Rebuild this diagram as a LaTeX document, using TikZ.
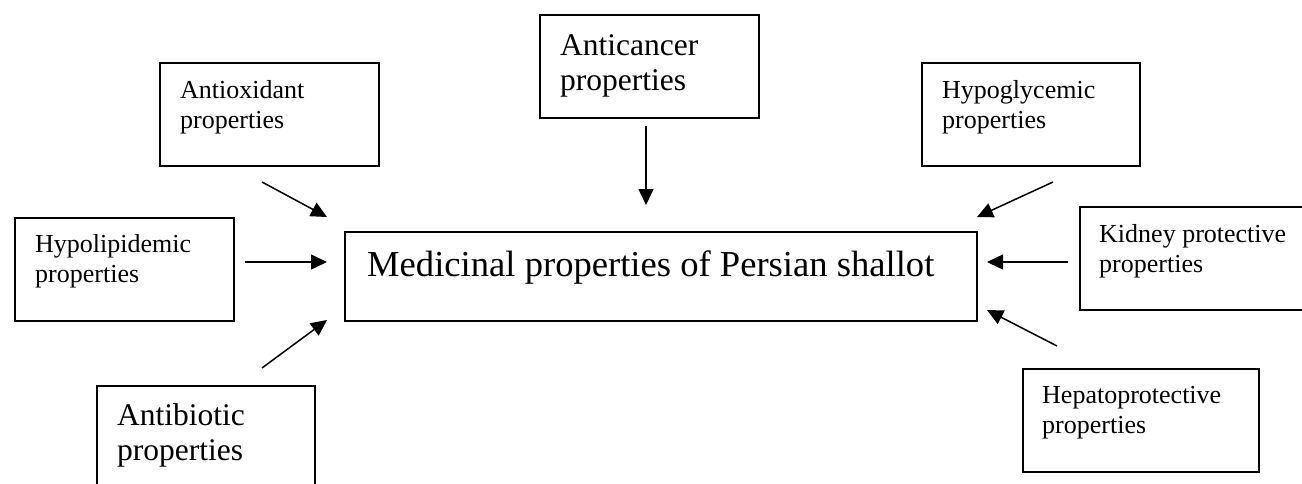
\documentclass[tikz,border=0pt]{standalone}
\usepackage{fontspec}
\setmainfont{Liberation Serif}
\usetikzlibrary{arrows.meta}
\tikzset{
  box/.style={draw, line width=1.6pt, inner sep=0pt, anchor=north west},
  small/.style={inner sep=0pt, anchor=north west, align=left, font=\fontsize{26}{30}\selectfont},
  large/.style={inner sep=0pt, anchor=north west, align=left, font=\fontsize{31.5}{35}\selectfont},
  arr/.style={line width=1.5pt, -{Triangle[length=16pt,width=15pt]}}
}
\newcommand{\boxat}[5]{\node[box, minimum width=#4-#2, minimum height=#5-#3] (#1) at (#2,#3) {};}
\begin{document}
\begin{tikzpicture}[x=1pt,y=-1pt]
\useasboundingbox (0,0) rectangle (1302,483);
\clip (0,0) rectangle (1302,483);
% boxes
\boxat{antiox}{159}{62}{378}{165}
\boxat{anticancer}{539}{14}{758}{117}
\boxat{hypogly}{921}{62}{1139}{165}
\boxat{hypolip}{14}{217}{233}{320}
\boxat{main}{344}{231}{976}{320}
\boxat{kidney}{1079}{206}{1330}{309}
\boxat{antibio}{96}{385}{314}{520}
\boxat{hepato}{1022}{368}{1258}{471}
% texts
\node[small] (tantiox) at (180,78) {\rule{0pt}{20pt}Antioxidant\\properties};
\node[large] (tanticancer) at (560,30) {\rule{0pt}{25pt}Anticancer\\properties};
\node[small] (thypogly) at (942,78) {\rule{0pt}{20pt}Hypoglycemic\\properties};
\node[small] (thypolip) at (35,232) {\rule{0pt}{20pt}Hypolipidemic\\properties};
\node[inner sep=0pt, anchor=base west, font=\fontsize{36.6}{40}\selectfont] (tmain) at (367,276) {Medicinal properties of Persian shallot};
\node[small] (tkidney) at (1099,222) {\rule{0pt}{20pt}Kidney protective\\properties};
\node[large] (tantibio) at (117,400) {\rule{0pt}{25pt}Antibiotic\\properties};
\node[small] (thepato) at (1042,383) {\rule{0pt}{20pt}Hepatoprotective\\properties};
% arrow endpoints
\coordinate (a1) at (262,182); \coordinate (b1) at (327,217);
\coordinate (a2) at (646,126); \coordinate (b2) at (646,205);
\coordinate (a3) at (1053,182); \coordinate (b3) at (977,217);
\coordinate (a4) at (245,262); \coordinate (b4) at (327,262);
\coordinate (a5) at (1068,262); \coordinate (b5) at (987,262);
\coordinate (a6) at (262,368); \coordinate (b6) at (327,320);
\coordinate (a7) at (1057,346); \coordinate (b7) at (987,310);
\foreach \i in {1,...,7} {\draw[arr] (a\i) -- (b\i);}
\end{tikzpicture}
\end{document}
